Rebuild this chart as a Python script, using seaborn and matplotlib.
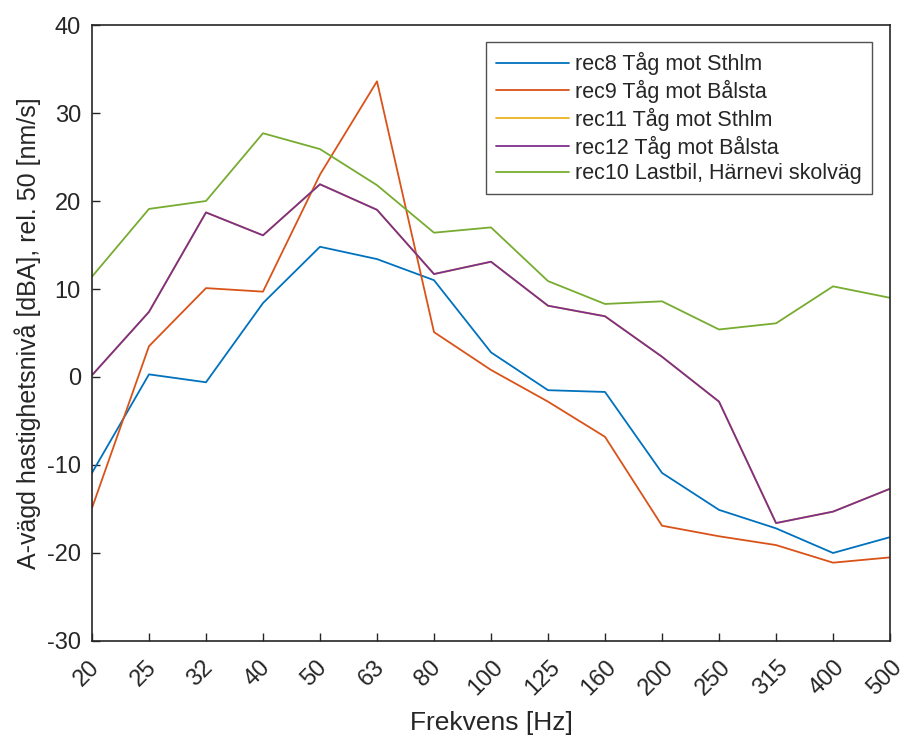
import numpy as np
import pandas as pd
import matplotlib
matplotlib.use('Agg')
import matplotlib.pyplot as plt
import matplotlib.transforms as mtransforms
import seaborn as sns

# Tertsband (Hz)
freqs = ['20', '25', '32', '40', '50', '63', '80', '100', '125', '160',
         '200', '250', '315', '400', '500']

# Values
rec8 = [-10.9, 0.3, -0.6, 8.4, 14.8, 13.4, 11.0, 2.8, -1.5, -1.7,
        -10.9, -15.1, -17.2, -20.0, -18.2]
rec9 = [-14.9, 3.5, 10.1, 9.7, 23.0, 33.6, 5.1, 0.8, -2.8, -6.8,
        -16.9, -18.1, -19.1, -21.1, -20.5]
# rec11 lies under rec12 in the original (not visible)
rec11 = [0.2, 7.4, 18.7, 16.1, 21.9, 19.0, 11.7, 13.1, 8.1, 6.9,
         2.3, -2.8, -16.6, -15.3, -12.7]
rec12 = [0.2, 7.4, 18.7, 16.1, 21.9, 19.0, 11.7, 13.1, 8.1, 6.9,
         2.3, -2.8, -16.6, -15.3, -12.7]
rec10 = [11.4, 19.1, 20.0, 27.7, 25.9, 21.8, 16.4, 17.0, 10.9, 8.3,
         8.6, 5.4, 6.1, 10.3, 9.0]

labels = ['rec8 Tåg mot Sthlm', 'rec9 Tåg mot Bålsta', 'rec11 Tåg mot Sthlm',
          'rec12 Tåg mot Bålsta', 'rec10 Lastbil, Härnevi skolväg']
series = [rec8, rec9, rec11, rec12, rec10]
colors = ['#0072BD', '#D95319', '#EDB120', '#7E2F8E', '#77AC30']

sns.set_style('white')
plt.rcParams['font.family'] = ['Liberation Sans', 'DejaVu Sans']
plt.rcParams['axes.unicode_minus'] = False

fig = plt.figure(figsize=(9.07, 7.4), dpi=100)
ax = fig.add_axes([0.1014, 0.1338, 0.8799, 0.8324])

for lab, vals, col in zip(labels, series, colors):
    df = pd.DataFrame({'f': freqs, 'v': vals})
    sns.lineplot(data=df, x='f', y='v', sort=False, color=col, lw=1.3,
                 label=lab, ax=ax)

ax.set_xlim(0, len(freqs) - 1)
ax.set_ylim(-30, 40)
ax.set_yticks(np.arange(-30, 41, 10))
ax.tick_params(axis='both', direction='in', length=6, width=1,
               labelsize=17, colors='#262626', top=False, right=False,
               bottom=True, left=True)
ax.tick_params(axis='x', pad=11)
ax.tick_params(axis='y', pad=8)
shift = mtransforms.ScaledTranslation(-4 / 72, 0, fig.dpi_scale_trans)
for t in ax.get_xticklabels():
    t.set_rotation(45)
    t.set_ha('center')
    t.set_va('top')
    t.set_transform(t.get_transform() + shift)
for s in ax.spines.values():
    s.set_color('#262626')
    s.set_linewidth(1.2)
    s.set_visible(True)

ax.set_xlabel('Frekvens [Hz]', fontsize=19, color='#262626', labelpad=8)
ax.set_ylabel('A-vägd hastighetsnivå [dBA], rel. 50 [nm/s]', fontsize=18,
              color='#262626', labelpad=4)

leg = ax.legend(loc='upper right', bbox_to_anchor=(0.977, 0.972),
                fontsize=15.5, frameon=True, fancybox=False, handlelength=3.4,
                handletextpad=0.28, labelspacing=0.22, borderpad=0.45,
                borderaxespad=0)
leg.get_frame().set_edgecolor('#262626')
leg.get_frame().set_linewidth(1.0)
for t in leg.get_texts():
    t.set_color('#262626')

fig.savefig('out.png', dpi=100)
